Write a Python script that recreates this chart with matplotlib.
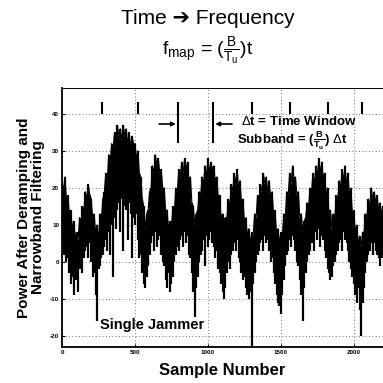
import numpy as np
import matplotlib
matplotlib.use("Agg")
import matplotlib.pyplot as plt

plt.rcParams['font.family'] = ['Liberation Sans', 'DejaVu Sans']
plt.rcParams['mathtext.fontset'] = 'custom'
plt.rcParams['mathtext.rm'] = 'Liberation Sans'
plt.rcParams['mathtext.it'] = 'Liberation Sans'
plt.rcParams['mathtext.bf'] = 'Liberation Sans:bold'

# sample bins (every 10 samples) with max / min power
sample = np.arange(0, 2201, 10)
hi = [22, 19, 23, 17, 18, 13, 14, 9, 11, 7,
      8, 6, 12, 10, 15, 14, 19, 17, 21, 18,
      17, 12, 13, 8, 10, 6, 13, 12, 17, 19,
      24, 22, 29, 27, 32, 31, 35, 33, 37, 34,
      36, 33, 37, 34, 36, 32, 35, 31, 34, 32,
      32, 28, 30, 24, 23, 17, 15, 9, 13, 14,
      19, 20, 26, 24, 29, 26, 28, 24, 25, 20,
      20, 14, 14, 9, 11, 10, 15, 14, 20, 19,
      25, 23, 27, 24, 28, 25, 27, 22, 23, 16,
      15, 10, 13, 14, 19, 18, 23, 21, 26, 23,
      28, 24, 27, 25, 26, 22, 23, 18, 18, 12,
      13, 9, 12, 12, 17, 15, 21, 19, 24, 21,
      25, 20, 22, 16, 17, 11, 12, 7, 9, 5,
      8, 7, 13, 12, 18, 16, 21, 19, 24, 21,
      23, 19, 22, 17, 19, 13, 14, 8, 9, 5,
      8, 7, 13, 12, 19, 18, 24, 21, 26, 22,
      23, 18, 19, 12, 13, 8, 11, 12, 16, 15,
      20, 19, 24, 21, 26, 23, 28, 24, 27, 23,
      24, 18, 20, 13, 14, 9, 13, 12, 18, 17,
      22, 20, 25, 22, 26, 21, 24, 18, 20, 13,
      14, 8, 10, 5, 7, 4, 8, 8, 13, 12,
      17, 15, 20, 17, 19, 16, 18, 14, 16, 13,
      15]
lo = [6, 2, 4, 0, 1, -3, -6, -4, -9, -5,
      -5, -8, -2, -1, -3, 1, 3, 4, 1, 5,
      0, -4, -3, -9, -16, -2, -1, 1, 2, 4,
      6, 3, 8, 2, 10, -4, 12, 9, 14, 16,
      8, 17, 3, 15, 14, 6, 16, 13, 1, 12,
      10, 13, 6, 1, 2, -3, -6, -7, -4, -1,
      2, 5, 7, 3, 8, 4, 6, 7, 2, 0,
      -1, -5, -7, -3, -8, -6, -4, 0, 2, 4,
      3, 6, 7, 4, 8, 5, 7, 2, 1, -3,
      -8, -15, -7, -4, 0, 2, 3, 6, -1, 7,
      4, 6, 8, 5, 4, 1, 3, -2, -3, -6,
      -8, -10, -7, -3, 0, -2, 2, 3, 5, 3,
      6, 1, 0, -3, -5, -4, -7, -9, -10, -8,
      -23, -6, -3, 0, 2, 3, 5, 6, 3, 7,
      5, 6, 3, 0, 1, -3, -6, -9, -11, -12,
      -14, -9, -5, -1, 2, 3, 6, 4, 7, 6,
      3, 0, -1, -5, -9, -16, -7, -3, 0, 2,
      3, 5, 6, 3, 8, 6, 9, 4, 7, 6,
      3, 1, -2, -3, -5, -4, -1, 0, 2, 3,
      5, 6, 3, 8, 6, 5, 3, 0, -2, -4,
      -6, -9, -11, -7, -13, -20, -11, -7, -3, 0,
      2, 3, 5, 2, 5, 3, 2, 1, -1, 1,
      2]

xticks = [0, 500, 1000, 1500, 2000]
xticklabels = ['0', '500', '1000', '1500', '2000']
yticks = [-20, -10, 0, 10, 20, 30, 40]
yticklabels = ['-20', '-10', '0', '10', '20', '30', '40']

# time-window markers along the top
short_marks = [274, 521, 1301, 1562, 1822, 2055]
long_marks = [795, 1034]

fig = plt.figure(figsize=(3.83, 3.83), dpi=100)
ax = fig.add_axes([0.162, 0.094, 0.838, 0.676])

ax.vlines(sample, lo, hi, color='black', linewidth=1.6, zorder=3)
ax.plot(sample, hi, color='black', linewidth=0.8, zorder=3)

ax.set_xlim(0, 2200)
ax.set_ylim(-23, 47)
ax.set_xticks(xticks)
ax.set_xticklabels(xticklabels)
ax.set_yticks(yticks)
ax.set_yticklabels(yticklabels)
ax.tick_params(direction='in', length=2, width=0.8, labelsize=4.5, pad=2)
for lab in ax.get_xticklabels() + ax.get_yticklabels():
    lab.set_fontweight('bold')

ax.grid(True, color='0.25', linestyle=(0, (1, 3)), linewidth=0.6, zorder=1)
ax.spines['right'].set_visible(False)
ax.spines['left'].set_linewidth(1.3)
ax.spines['bottom'].set_linewidth(1.3)
ax.spines['top'].set_linewidth(0.7)

ax.vlines(short_marks, 40, 43.3, color='black', linewidth=1.5, zorder=4)
ax.vlines(long_marks, 32.2, 43.3, color='black', linewidth=1.5, zorder=4)
ax.annotate('', xy=(780, 37.3), xytext=(665, 37.3),
            arrowprops=dict(arrowstyle='-|>', color='black', lw=1.2,
                            mutation_scale=6, shrinkA=0, shrinkB=0))
ax.annotate('', xy=(1050, 37.3), xytext=(1165, 37.3),
            arrowprops=dict(arrowstyle='-|>', color='black', lw=1.2,
                            mutation_scale=6, shrinkA=0, shrinkB=0))
ax.text(1230, 37.9, r'$\Delta$t = Time Window', fontsize=9.5, fontweight='bold',
        va='center', ha='left', zorder=5)
ax.text(1200, 32.6, r'Subband = ($\mathbf{\frac{B}{T_u}}$) $\Delta$t', fontsize=9.5,
        fontweight='bold', va='center', ha='left', zorder=5)
ax.text(260, -17, 'Single Jammer', fontsize=10.5, fontweight='bold',
        va='center', ha='left', zorder=5)

ax.set_xlabel('Sample Number', fontsize=12, fontweight='bold', labelpad=6)
ax.set_ylabel('Power After Deramping and\nNarrowband Filtering', fontsize=11,
              fontweight='bold', labelpad=4, linespacing=0.95)

fig.text(0.543, 0.953, 'Time \u2794 Frequency', fontsize=15, ha='center', va='center')
fig.text(0.543, 0.866, r'$\mathrm{f_{map}}$ = ($\frac{\mathrm{B}}{\mathrm{T_u}}$)t',
         fontsize=14, ha='center', va='center')

fig.savefig('out.png', dpi=100)
